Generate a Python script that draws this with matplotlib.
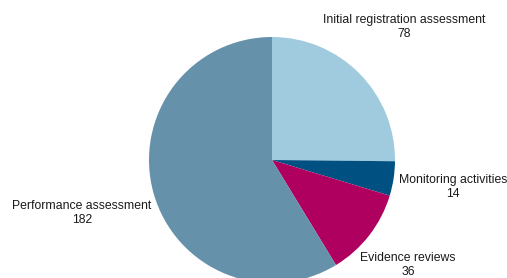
import numpy as np
import matplotlib
matplotlib.use("Agg")
from matplotlib import pyplot as plt

labels = ['Initial registration assessment', 'Monitoring activities',
          'Evidence reviews', 'Performance assessment']
values = [78, 14, 36, 182]
colors = ['#a0cbde', '#005082', '#b0005f', '#6691aa']

# label positions in pixels (x, y from top), centre of the two-line block
label_px = [(404, 27), (453, 187), (408, 265), (82, 213)]

W, H = 507, 278
cx, cy, r = 272, 160, 123

plt.rcParams['font.family'] = ['Liberation Sans', 'DejaVu Sans']

fig = plt.figure(figsize=(W / 100, H / 100), dpi=100)
ax = fig.add_axes([0, 0, 1, 1])
ax.pie(values, colors=colors, startangle=90, counterclock=False,
       radius=r, center=(cx, H - cy), wedgeprops=dict(linewidth=0))

for lab, val, (px, py) in zip(labels, values, label_px):
    ax.text(px, H - py, f'{lab}\n{val}', ha='center', va='center',
            fontsize=8.8, color='#1a1a1a', linespacing=1.3)

ax.set_xlim(0, W)
ax.set_ylim(0, H)
ax.set_aspect('equal')
ax.axis('off')

fig.savefig('out.png', dpi=100)
